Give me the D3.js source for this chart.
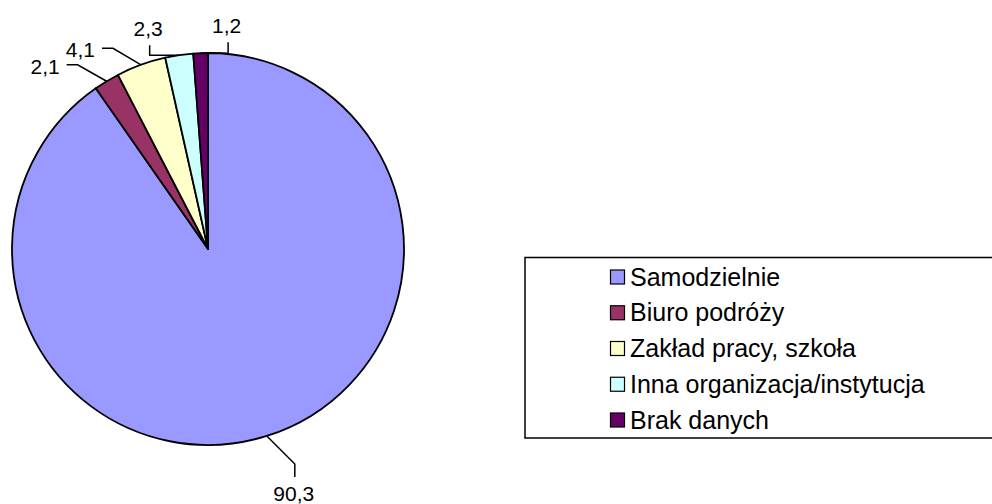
<!DOCTYPE html>
<html>
<head>
<meta charset="utf-8">
<script src="https://cdn.jsdelivr.net/npm/d3@7"></script>
<style>
  body { margin: 0; background: #fff; }
  svg { display: block; font-family: "Liberation Sans", Arial, sans-serif; }
</style>
</head>
<body>
<svg id="chart" width="992" height="504"></svg>
<script>
// data
var categories = ["Samodzielnie", "Biuro podróży", "Zakład pracy, szkoła", "Inna organizacja/instytucja", "Brak danych"];
var values = [90.3, 2.1, 4.1, 2.3, 1.2];
var colors = ["#9999FF", "#993366", "#FFFFCC", "#CCFFFF", "#660066"];

// where each value label sits relative to its slice edge (Excel moved them by hand)
var labelLayout = [
    {side: "bottom", dx: 27, dy: 57},
    {side: "left", dx: -47, dy: -15},
    {side: "left", dx: -46, dy: -15},
    {side: "top", dx: -31, dy: -27},
    {side: "top", dx: 26, dy: -28}
];

var svg = d3.select("#chart");
var width = +svg.attr("width"),
    height = +svg.attr("height");

var cx = 208, cy = 249, radius = 196;

var pl = d3.formatLocale({decimal: ",", thousands: " ", grouping: [3], currency: ["", " zł"]});
var fmt = pl.format(".1f");

var color = d3.scaleOrdinal().domain(categories).range(colors);

var pie = d3.pie().sort(null).value(function(d) { return d.value; });
var arc = d3.arc().innerRadius(0).outerRadius(radius);
var edge = d3.arc().innerRadius(radius).outerRadius(radius);

var rows = categories.map(function(c, i) { return {name: c, value: values[i]}; });
var slices = pie(rows);

var g = svg.append("g").attr("transform", "translate(" + cx + "," + cy + ")");

g.selectAll("path.slice")
    .data(slices)
  .enter().append("path")
    .attr("class", "slice")
    .attr("d", arc)
    .style("fill", function(d) { return color(d.data.name); })
    .style("stroke", "#000")
    .style("stroke-width", 1.8)
    .style("stroke-linejoin", "round");

// labels + leader lines
var labels = g.selectAll("g.lbl")
    .data(slices)
  .enter().append("g")
    .attr("class", "lbl");

labels.each(function(d, i) {
    var lay = labelLayout[i];
    var a = edge.centroid(d);
    var tx = a[0] + lay.dx, ty = a[1] + lay.dy;
    var pts;
    var sel = d3.select(this);
    var t = sel.append("text")
        .attr("x", tx)
        .attr("y", ty)
        .attr("dy", "0.36em")
        .style("font-size", "21px")
        .style("fill", "#000")
        .text(fmt(d.data.value));

    if (lay.side == "left") {
        t.style("text-anchor", "end");
        pts = [[tx + 7, ty - 1.5], [tx + 18, ty - 1.5], a];
    } else if (lay.side == "top") {
        t.style("text-anchor", "middle");
        pts = [[tx + 1.5, ty + 17], [tx + 1.5, a[1]], a];
    } else {
        t.style("text-anchor", "middle");
        pts = [[tx + 1, ty - 16], [tx + 1, ty - 29], a];
    }

    sel.append("path")
        .attr("d", d3.line()(pts))
        .style("fill", "none")
        .style("stroke", "#000")
        .style("stroke-width", 1.5);
});

// legend
var legend = svg.append("g").attr("class", "legend");

legend.append("rect")
    .attr("x", 525)
    .attr("y", 257.5)
    .attr("width", 500)
    .attr("height", 180.5)
    .style("fill", "#fff")
    .style("stroke", "#000")
    .style("stroke-width", 1.5);

var ly = d3.scalePoint()
    .domain(categories)
    .range([277, 420]);

var item = legend.selectAll(".item")
    .data(categories)
  .enter().append("g")
    .attr("class", "item")
    .attr("transform", function(d) { return "translate(610," + ly(d) + ")"; });

item.append("rect")
    .attr("x", 0.5)
    .attr("y", -7)
    .attr("width", 14)
    .attr("height", 14)
    .style("fill", color)
    .style("stroke", "#000")
    .style("stroke-width", 1.2);

item.append("text")
    .attr("x", 20)
    .attr("y", 8.5)
    .style("font-size", "25px")
    .style("fill", "#000")
    .text(function(d) { return d; });
</script>
</body>
</html>
